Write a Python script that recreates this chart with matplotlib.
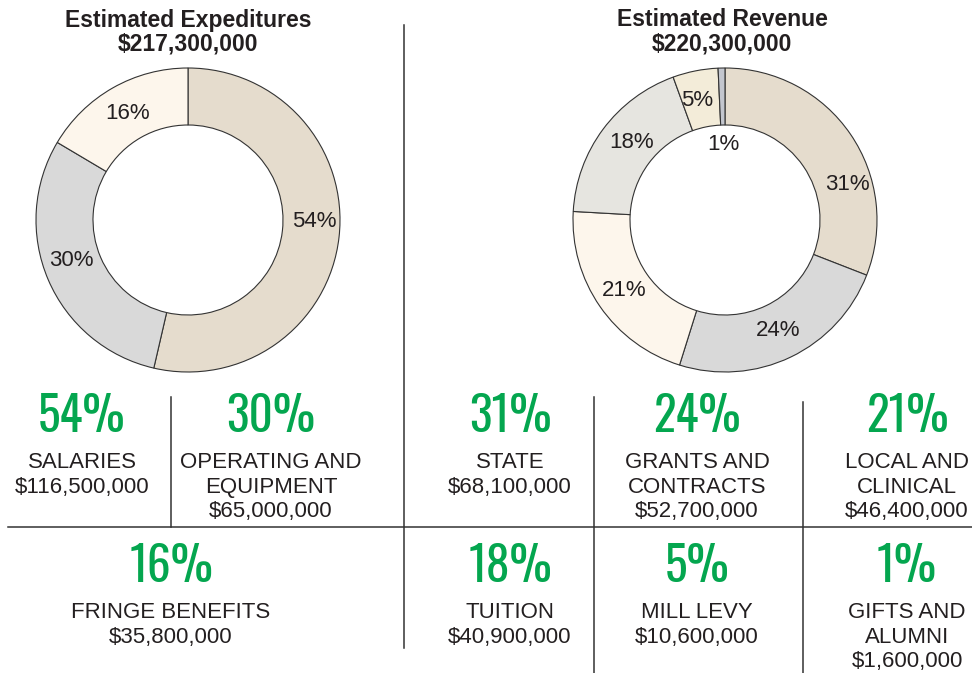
import numpy as np
import matplotlib
matplotlib.use("Agg")
import matplotlib.pyplot as plt
from matplotlib import font_manager

# data (millions of dollars)
exp_labels = ["SALARIES", "OPERATING AND\nEQUIPMENT", "FRINGE BENEFITS"]
exp_values = [116.5, 65.0, 35.8]
exp_pct = ["54%", "30%", "16%"]
exp_amounts = ["$116,500,000", "$65,000,000", "$35,800,000"]
exp_total = "$217,300,000"

rev_labels = ["STATE", "GRANTS AND\nCONTRACTS", "LOCAL AND\nCLINICAL", "TUITION", "MILL LEVY", "GIFTS AND\nALUMNI"]
rev_values = [68.1, 52.7, 46.4, 40.9, 10.6, 1.6]
rev_pct = ["31%", "24%", "21%", "18%", "5%", "1%"]
rev_amounts = ["$68,100,000", "$52,700,000", "$46,400,000", "$40,900,000", "$10,600,000", "$1,600,000"]
rev_total = "$220,300,000"

exp_colors = ["#e5dccd", "#d9d9d9", "#fdf6ec"]
rev_colors = ["#e5dccd", "#d9d9d9", "#fdf6ec", "#e6e5e0", "#f3ecd9", "#c3c6ce"]

names = {f.name for f in font_manager.fontManager.ttflist}


def pick(cands, default):
    for c in cands:
        if c in names:
            return c
    return default


base_font = pick(["Liberation Sans", "Arimo"], "DejaVu Sans")
big_font = pick(["Oswald", "Roboto Condensed", "Barlow Condensed", "Archivo Narrow",
                 "Asap Condensed", "Liberation Sans Narrow"], base_font)
plt.rcParams["font.family"] = base_font

W, H = 972, 673
fig = plt.figure(figsize=(W / 100, H / 100), dpi=100)
GREEN = "#04a64f"
DARK = "#231f20"


def donut(cx, cy, r, values, colors, pcts, nudges, inner=0.625):
    ax = fig.add_axes([(cx - r) / W, 1 - (cy + r) / H, 2 * r / W, 2 * r / H])
    wedges, _ = ax.pie(values, colors=colors, startangle=90, counterclock=False,
                       wedgeprops=dict(width=1 - inner, edgecolor="#333333", linewidth=0.8))
    ax.set_xlim(-1, 1)
    ax.set_ylim(-1, 1)
    ax.set_aspect("equal")
    for w, p, (dang, rad) in zip(wedges, pcts, nudges):
        ang = np.deg2rad((w.theta1 + w.theta2) / 2 + dang)
        ax.text(rad * np.cos(ang), rad * np.sin(ang), p, ha="center", va="center",
                fontsize=16, color=DARK)
    return ax


donut(188, 220, 152, exp_values, exp_colors, exp_pct, [(6, 0.83), (-4, 0.81), (0, 0.81)])
donut(725, 220, 152, rev_values, rev_colors, rev_pct,
      [(-18, 0.84), (0, 0.81), (0, 0.81), (-3, 0.8), (2, 0.81), (0, 0.5)])

# overlay for titles, text blocks and rules, in pixel units
ov = fig.add_axes([0, 0, 1, 1])
ov.set_xlim(0, W)
ov.set_ylim(H, 0)
ov.axis("off")

for x, t1, t2 in [(188, "Estimated Expeditures", exp_total), (722, "Estimated Revenue", rev_total)]:
    ov.text(x, 20, t1, ha="center", va="center", fontsize=16.5, fontweight="bold", color=DARK)
    ov.text(x, 44, t2, ha="center", va="center", fontsize=16.5, fontweight="bold", color=DARK)

lc = "#333333"
ov.plot([404, 404], [25, 648], color=lc, lw=1.1)
ov.plot([8, W], [527, 527], color=lc, lw=1.1)
ov.plot([171, 171], [397, 527], color=lc, lw=1.1)
ov.plot([594, 594], [397, H], color=lc, lw=1.1)
ov.plot([803, 803], [402, H], color=lc, lw=1.1)


def block(x, y, pct, label, amount):
    ov.text(x, y, pct, ha="center", va="center", fontsize=34, fontweight="normal",
            color=GREEN, family=big_font)
    lines = label.split("\n") + [amount]
    for i, t in enumerate(lines):
        ov.text(x, y + 46 + 24.5 * i, t, ha="center", va="center", fontsize=16, color=DARK)


exp_pos = [(82, 417), (271, 417), (171, 567)]
for (x, y), p, l, a in zip(exp_pos, exp_pct, exp_labels, exp_amounts):
    block(x, y, p, l, a)

rev_pos = [(510, 417), (697, 417), (907, 417), (510, 567), (697, 567), (907, 567)]
for (x, y), p, l, a in zip(rev_pos, rev_pct, rev_labels, rev_amounts):
    block(x, y, p, l, a)

fig.savefig("out.png", dpi=100, facecolor="white")
